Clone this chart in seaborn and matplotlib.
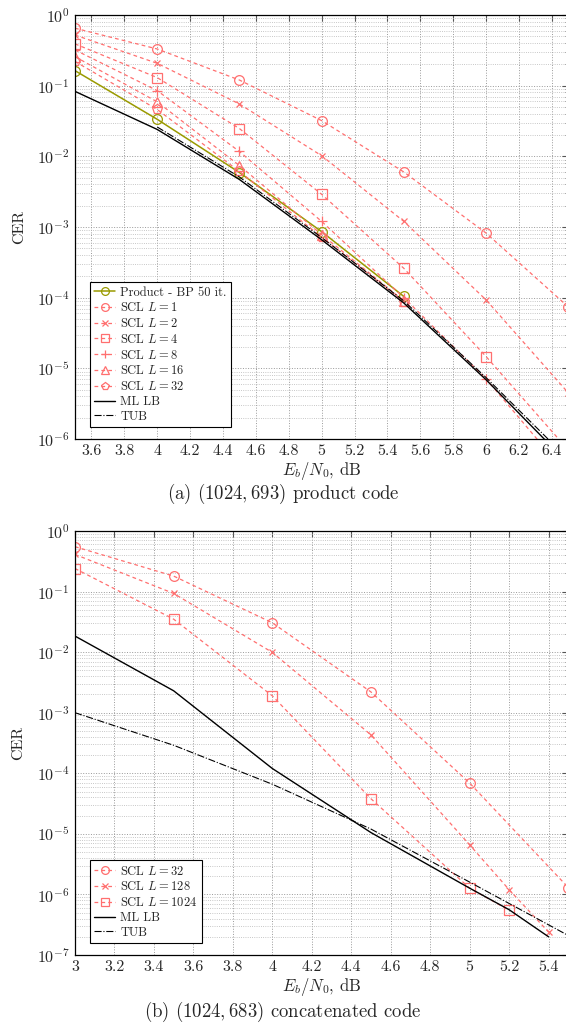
import numpy as np
import pandas as pd
import seaborn as sns
import matplotlib.pyplot as plt
from matplotlib.ticker import LogLocator, NullFormatter

# ---- data: (a) product code ----
ebn0_a = [3.5, 4.0, 4.5, 5.0, 5.5, 6.0, 6.5]
ebn0_a5 = [3.5, 4.0, 4.5, 5.0, 5.5]
prod_bp = [0.163, 0.0334, 0.0059, 8.6e-4, 1.04e-4]
scl_l1 = [0.65, 0.33, 0.12, 0.032, 0.006, 8.2e-4, 7.4e-5]
scl_l2 = [0.52, 0.207, 0.055, 0.0102, 1.2e-3, 9.3e-5, 4.5e-6]
scl_l4 = [0.39, 0.13, 0.0247, 0.0029, 2.6e-4, 1.47e-5, 7e-7]
scl_l8 = [0.32, 0.085, 0.0117, 1.2e-3, 1.0e-4, 7.1e-6, 3e-7]
scl_l16 = [0.257, 0.059, 0.0074, 7.8e-4, 9.0e-5]
scl_l32 = [0.22, 0.046, 0.0061, 7.2e-4, 8.8e-5]
ml_a = [0.083, 0.024, 0.0047, 6.6e-4, 8.4e-5, 6.9e-6, 4.5e-7]
tub_x_a = [4.0, 4.5, 5.0, 5.5, 6.0, 6.5]
tub_a = [0.026, 0.0051, 7.1e-4, 9.0e-5, 7.4e-6, 5.2e-7]

# ---- data: (b) concatenated code ----
ebn0_b = [3.0, 3.5, 4.0, 4.5, 5.0, 5.5]
scl_b32 = [0.55, 0.18, 0.0305, 0.0022, 6.9e-5, 1.3e-6]
ebn0_b128 = [3.0, 3.5, 4.0, 4.5, 5.0, 5.2, 5.4]
scl_b128 = [0.41, 0.093, 0.0099, 4.3e-4, 6.6e-6, 1.2e-6, 2.4e-7]
ebn0_b1024 = [3.0, 3.5, 4.0, 4.5, 5.0, 5.2]
scl_b1024 = [0.24, 0.035, 0.0019, 3.8e-5, 1.27e-6, 5.5e-7]
ebn0_ml_b = [3.0, 3.5, 4.0, 4.5, 5.0, 5.2, 5.4]
ml_b = [0.0184, 0.0023, 1.2e-4, 1.05e-5, 1.27e-6, 5.6e-7, 2.0e-7]
tub_b = [1.0e-3, 2.9e-4, 6.6e-5, 1.2e-5, 1.6e-6, 2.1e-7]

sns.set_style('white')
plt.rcParams['font.family'] = ['cmr10', 'DejaVu Serif']
plt.rcParams['mathtext.fontset'] = 'cm'
plt.rcParams['axes.formatter.use_mathtext'] = True
plt.rcParams['axes.unicode_minus'] = True

RED = '#ff6f6f'
OLIVE = '#9a9a00'

fig = plt.figure(figsize=(5.66, 10.32), dpi=100)
ax1 = fig.add_axes([0.1325, 0.5746, 0.8715, 0.4109])
ax2 = fig.add_axes([0.1325, 0.0746, 0.8715, 0.4109])

MSIZE = {'o': 7, 'x': 5, 's': 7, '+': 6.5, '^': 6.5, 'p': 7}


def scl(ax, x, y, marker, label):
    sns.lineplot(x=x, y=y, ax=ax, color=RED, marker=marker, markersize=MSIZE[marker],
                 markerfacecolor='none', markeredgecolor=RED, markeredgewidth=0.9,
                 linestyle=(0, (3, 2.5)), linewidth=0.9, label=label)


# panel (a)
sns.lineplot(x=ebn0_a5, y=prod_bp, ax=ax1, color=OLIVE, marker='o', markersize=7,
             markerfacecolor='none', markeredgecolor=OLIVE, markeredgewidth=0.9,
             linewidth=1.1, label='Product - BP 50 it.')
scl(ax1, ebn0_a, scl_l1, 'o', 'SCL $L = 1$')
scl(ax1, ebn0_a, scl_l2, 'x', 'SCL $L = 2$')
scl(ax1, ebn0_a, scl_l4, 's', 'SCL $L = 4$')
scl(ax1, ebn0_a, scl_l8, '+', 'SCL $L = 8$')
scl(ax1, ebn0_a5, scl_l16, '^', 'SCL $L = 16$')
scl(ax1, ebn0_a5, scl_l32, 'p', 'SCL $L = 32$')
sns.lineplot(x=ebn0_a, y=ml_a, ax=ax1, color='black', linewidth=1.0, label='ML LB')
sns.lineplot(x=tub_x_a, y=tub_a, ax=ax1, color='black', linewidth=0.8,
             linestyle='-.', label='TUB')

# panel (b)
scl(ax2, ebn0_b, scl_b32, 'o', 'SCL $L = 32$')
scl(ax2, ebn0_b128, scl_b128, 'x', 'SCL $L = 128$')
scl(ax2, ebn0_b1024, scl_b1024, 's', 'SCL $L = 1024$')
sns.lineplot(x=ebn0_ml_b, y=ml_b, ax=ax2, color='black', linewidth=1.0, label='ML LB')
sns.lineplot(x=ebn0_b, y=tub_b, ax=ax2, color='black', linewidth=0.8,
             linestyle='-.', label='TUB')

for ax, xlim, ylim, xt in [
        (ax1, (3.5, 6.5), (1e-6, 1), np.arange(3.6, 6.45, 0.2)),
        (ax2, (3.0, 5.5), (1e-7, 1), np.arange(3.0, 5.45, 0.2))]:
    ax.set_yscale('log')
    ax.set_xlim(*xlim)
    ax.set_ylim(*ylim)
    ax.set_xticks(xt)
    ax.set_xticklabels(['%g' % round(v, 1) for v in xt])
    ax.yaxis.set_major_locator(LogLocator(base=10, numticks=20))
    ax.yaxis.set_minor_locator(LogLocator(base=10, subs=np.arange(2, 10), numticks=20))
    ax.yaxis.set_minor_formatter(NullFormatter())
    ax.grid(True, which='major', linestyle=':', color='#999999', linewidth=0.7)
    ax.grid(True, which='minor', axis='y', linestyle=':', color='#b5b5b5', linewidth=0.6)
    ax.tick_params(which='both', direction='in', top=True, right=True, labelsize=11.5,
                   color='#555555', pad=4)
    ax.tick_params(which='major', length=4)
    ax.tick_params(which='minor', length=2)
    for s in ax.spines.values():
        s.set_color('black')
        s.set_linewidth(0.9)
    ax.set_ylabel('CER', fontsize=11.5, labelpad=8)
    ax.set_xlabel('$E_b/N_0$, dB', fontsize=12, labelpad=1)
    leg = ax.legend(loc='lower left', bbox_to_anchor=(0.03, 0.028), borderaxespad=0,
                    fontsize=9, frameon=True, fancybox=False, edgecolor='black',
                    handlelength=1.7, handletextpad=0.4, labelspacing=0.22,
                    borderpad=0.35, markerscale=0.8)
    leg.get_frame().set_linewidth(0.8)
    leg.get_frame().set_alpha(1)

fig.text(0.5, 1 - 494 / 1032, '(a) $(1024, 693)$ product code', ha='center',
         va='center', fontsize=13.5)
fig.text(0.5, 1 - 1012 / 1032, '(b) $(1024, 683)$ concatenated code', ha='center',
         va='center', fontsize=13.5)

fig.savefig('out.png', dpi=100)
